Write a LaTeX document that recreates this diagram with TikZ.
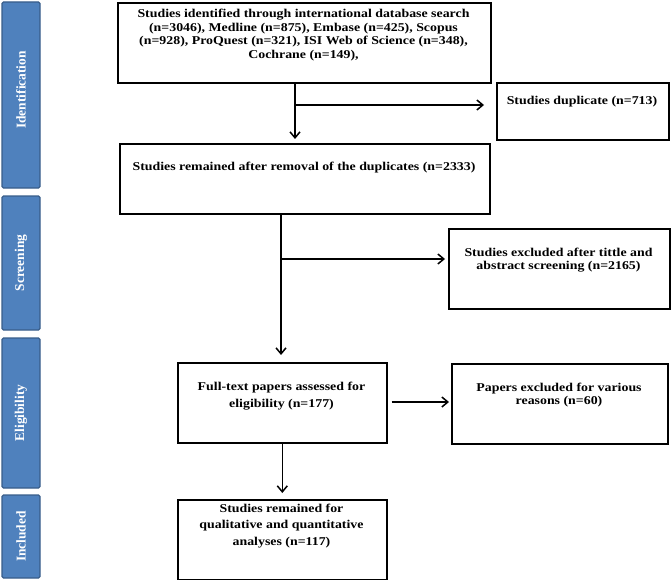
\documentclass[tikz,border=0pt]{standalone}
\usepackage{fontspec}
\setmainfont{Liberation Serif}
\newfontfamily\boxfont[FakeStretch=1.16]{Liberation Serif}
\usetikzlibrary{arrows.meta,calc}
\definecolor{barblue}{HTML}{4F81BD}
\definecolor{baredge}{HTML}{385D8A}
\tikzset{
  box/.style={draw=black, line width=1.6bp, fill=white, rectangle, anchor=north west, inner sep=0pt},
  txt/.style={align=center, font=\boxfont\fontsize{12}{13.5}\selectfont\bfseries, inner sep=0pt},
  txtwide/.style={txt, font=\boxfont\fontsize{12}{16.5}\selectfont\bfseries},
  phase/.style={draw=baredge, line width=1.4bp, fill=barblue, rounded corners=1.5bp},
  phasetxt/.style={rotate=90, text=white, font=\fontsize{13.5}{15}\selectfont\bfseries, inner sep=0pt},
  arr/.style={line width=1.5bp, -{Straight Barb[length=6bp,width=10bp,line width=1.5bp]}},
}
\begin{document}
\begin{tikzpicture}[x=1bp,y=-1bp]
\useasboundingbox (0,0) rectangle (671,580);
% phase bars
\draw[phase] (2,2) rectangle (40,188);
\node[phasetxt] (pid) at (21,90) {Identification};
\draw[phase] (2,196) rectangle (40,330);
\node[phasetxt] (psc) at (21,263) {Screening};
\draw[phase] (2,338) rectangle (40,488);
\node[phasetxt] (pel) at (21,413) {Eligibility};
\draw[phase] (2,495) rectangle (40,578);
\node[phasetxt] (pin) at (21,536.5) {Included};
% boxes
\node[box, minimum width=373bp, minimum height=80bp] (top) at (117,2) {};
\node[txt] (toptxt) at (303.5,35) {Studies identified through international database search\\(n=3046), Medline (n=875), Embase (n=425), Scopus\\(n=928), ProQuest (n=321), ISI Web of Science (n=348),\\Cochrane (n=149),};
\node[box, minimum width=172bp, minimum height=57bp] (dup) at (496,82) {};
\node[txt] (duptxt) at (582,102) {Studies duplicate (n=713)};
\node[box, minimum width=370bp, minimum height=70bp] (rem) at (119,143) {};
\node[txt] (remtxt) at (304,168) {Studies remained after removal of the duplicates (n=2333)};
\node[box, minimum width=221bp, minimum height=80bp] (exc) at (448,228) {};
\node[txt] (exctxt) at (558.5,260) {Studies excluded after tittle and\\abstract screening (n=2165)};
\node[box, minimum width=209bp, minimum height=80bp] (full) at (177,362) {};
\node[txtwide] (fulltxt) at (281.5,396) {Full-text papers assessed for\\eligibility (n=177)};
\node[box, minimum width=216bp, minimum height=80bp] (pap) at (451,363) {};
\node[txt] (paptxt) at (559,395) {Papers excluded for various\\reasons (n=60)};
\node[box, minimum width=209bp, minimum height=80bp] (fin) at (177,499) {};
\node[txtwide] (fintxt) at (281.5,526) {Studies remained for\\qualitative and quantitative\\analyses (n=117)};
% connectors
\coordinate (b1) at (295,105);
\draw[line width=1.5bp] (b1 |- top.south) -- (b1);
\draw[arr, shorten >=4bp] (b1) -- (b1 |- rem.north);
\draw[arr, shorten >=12bp] (b1) -- (b1 -| dup.west);
\coordinate (b2) at (281,259);
\draw[line width=1.5bp] (b2 |- rem.south) -- (b2);
\draw[arr, shorten >=7bp] (b2) -- (b2 |- full.north);
\draw[arr, shorten >=3bp] (b2) -- (b2 -| exc.west);
\coordinate (b3) at (281,402);
\draw[arr, shorten <=4bp, shorten >=2bp] (b3 -| full.east) -- (b3 -| pap.west);
\draw[arr, shorten >=6bp] (full.south) -- (fin.north);
\end{tikzpicture}
\end{document}
